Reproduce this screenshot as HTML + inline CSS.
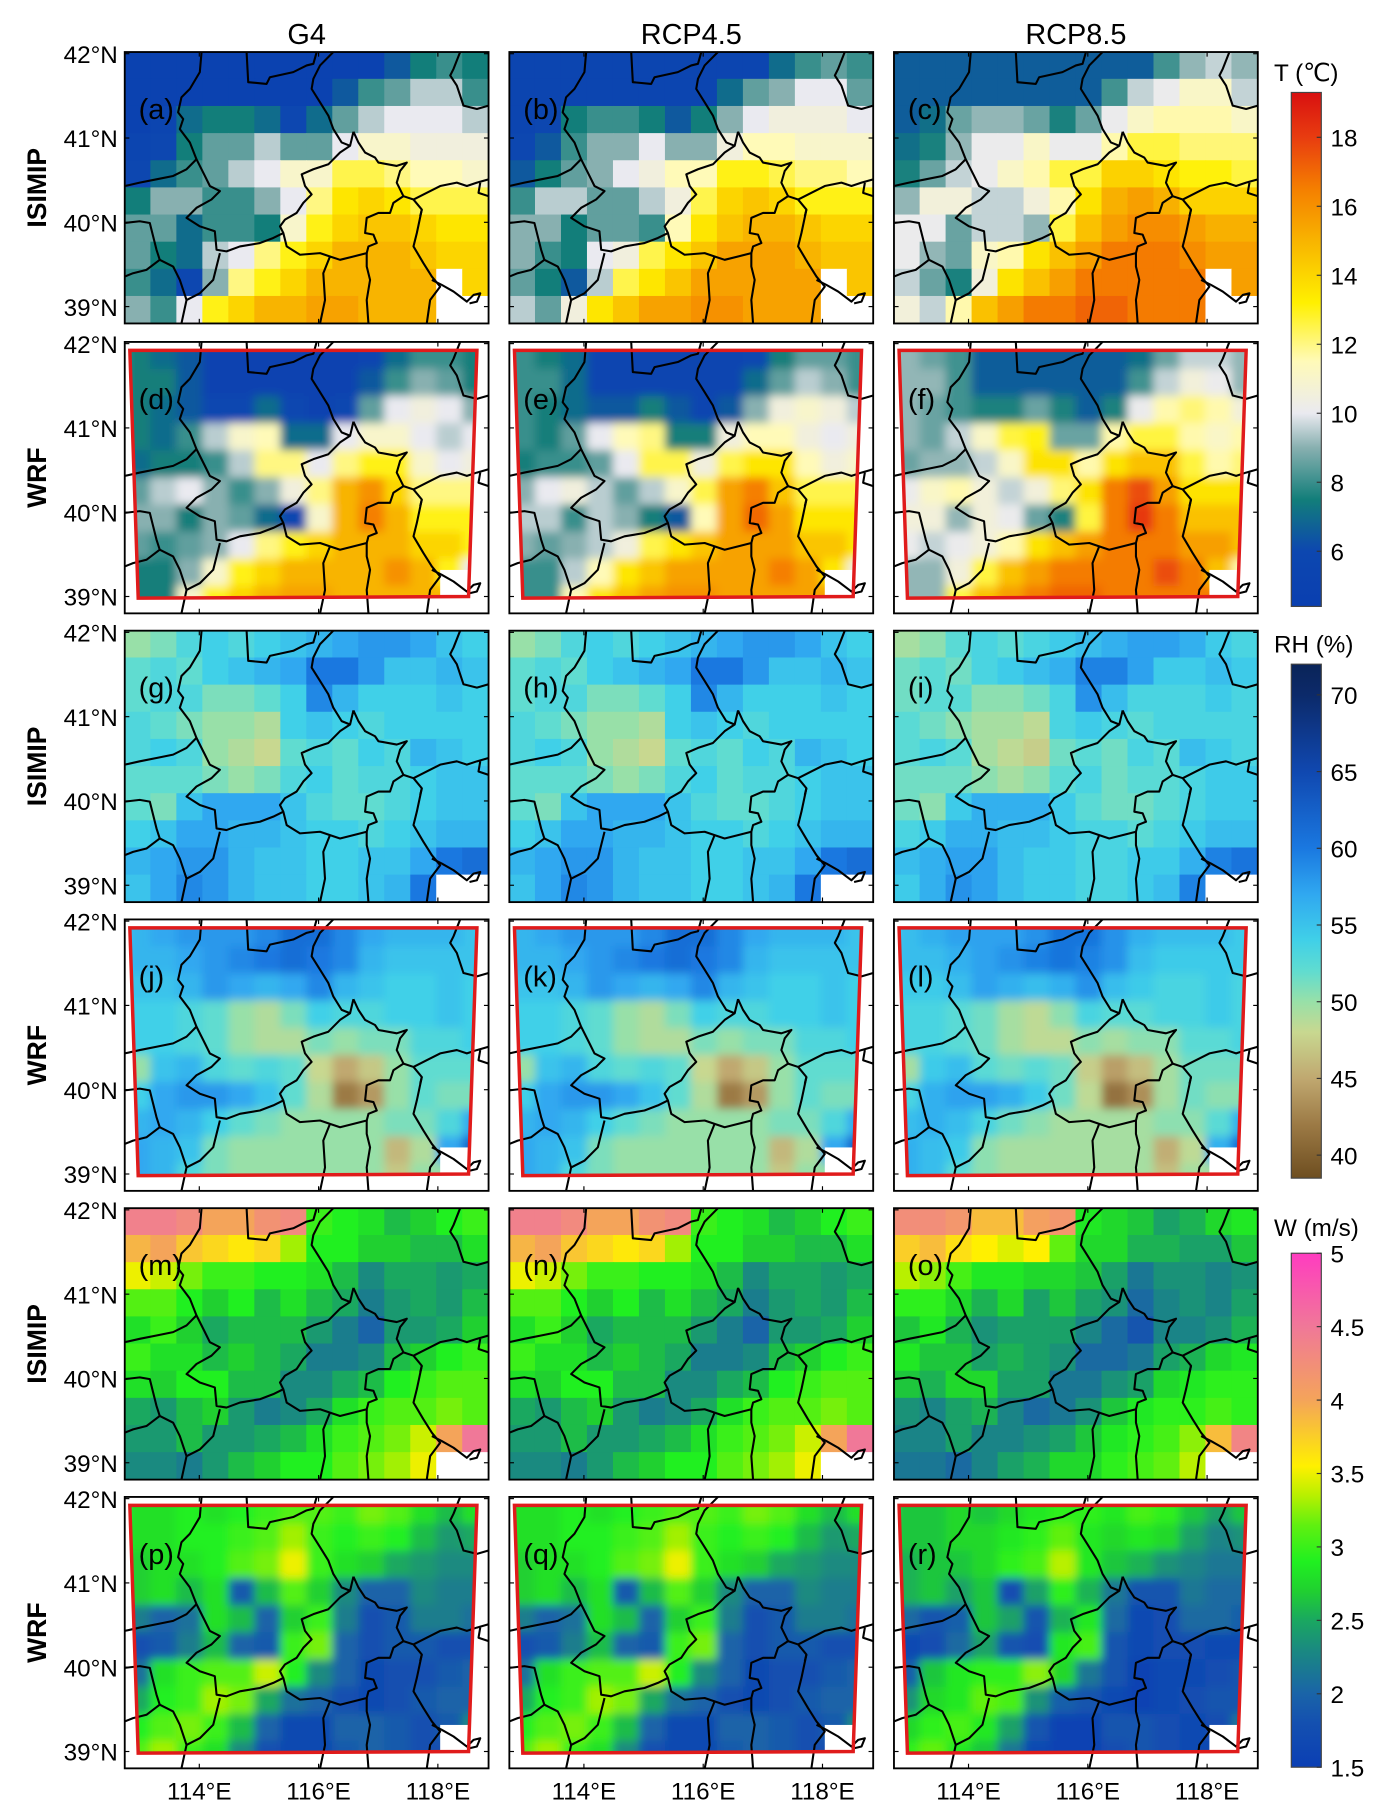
<!DOCTYPE html>
<html><head><meta charset="utf-8">
<style>
html,body{margin:0;padding:0;background:#fff;}
svg{display:block;font-family:"Liberation Sans",Arial,sans-serif;}
</style></head>
<body>
<svg id="fig" width="1386" height="1810" viewBox="0 0 1200 1567" xmlns="http://www.w3.org/2000/svg">
<defs>
<filter id="blur" x="-5%" y="-5%" width="110%" height="110%"><feGaussianBlur stdDeviation="4" edgeMode="duplicate"/></filter>
</defs>
</svg>
<script>
// ---------- data ----------
const columns = ["G4","RCP4.5","RCP8.5"];
const rowSources = ["ISIMIP","WRF","ISIMIP","WRF","ISIMIP","WRF"];
const latTicks = ["42°N","41°N","40°N","39°N"];
const latValues = [42,41,40,39];
const lonTicks = ["114°E","116°E","118°E"];
const lonValues = [114,116,118];
const panelLetters = ["a","b","c","d","e","f","g","h","i","j","k","l","m","n","o","p","q","r"];
const tOffsets = [0,0.5,1.6];
const rhOffsets = [0,0,-0.6];
const wOffsets = [0,0,-0.15];
const tTicks = [6,8,10,12,14,16,18];
const rhTicks = [40,45,50,55,60,65,70];
const wTicks = [1.5,2,2.5,3,3.5,4,4.5,5];
const N=null;
const tIsimip = [
[5,5,5,5,5,5,5,5,5,5,6.5,7.5,8,7.5],
[5,5,5,5,5,5,5,5,6.5,8,8.5,9.5,9.5,8],
[5,5.5,7,7.5,7.5,7,6,7,8.5,9.5,10,10,10,9.5],
[5.5,6,7.5,8.5,8.5,9.5,8.5,8.5,10,11,11,10.5,10.5,10.5],
[6,7,8,8.5,9.5,10,11,11,12.5,12.5,12,11.5,11.5,11],
[7.5,9,9,8,8,9,10,12,13.5,14,13.5,12.5,12.5,12.5],
[8.5,8.5,7,8,8,7.5,11,13,14,14.5,14.5,14,13.5,13.5],
[8.5,7.5,7,9.5,10,12,13,14,15,15,15,14.5,14,14],
[8,7,6,9,12,13,14,15,15,15,15,15,N,14],
[9,8,10,13,14,15,15,15.5,15.5,15,15,15,N,N]];
const tWrf = [
[7.5,7,6.5,5,5,5,5,5,5,5.5,7,8,8,7.5],
[7.5,7.5,6.5,5,5,5,5,5,5,6.5,8,9,8.5,7.5],
[7.5,7,6.5,6,6,7,6,5,6,8.5,10,10.5,10,9],
[7.5,7,8,9.5,11,11.5,7,7,10,11,11,10,9.5,10],
[7,7.5,7.5,8,9.5,12,12,10,12,13,13,11,10,10.5],
[8.5,9.5,10,9,8,9,10.5,12,15,16,14,12,12,12],
[9,9,7.5,9,8.5,7,6,11,15,16.5,15,13,13,13],
[8.5,8,8.5,9,10,12,13,14,15,15,15,14,14,13],
[7.5,7.5,9,11,13,14,15,15,15,15,16,15,13,10],
[7.5,7.5,11,13,14,15,15.5,15.5,15,15,15,15,N,N]];
const rhIsimip = [
[50,51,53,54,53,54,55,56,57,58,58,57,55,54],
[52,53,52,54,55,56,57,60,60,58,55,55,56,55],
[52,53,53,51,51,52,54,59,56,54,54,54,55,54],
[53,52,51,50,50,49,54,55,54,53,54,54,54,54],
[53,54,53,50,49,48,52,53,52,54,53,56,55,54],
[52,52,52,51,50,51,53,54,52,53,53,54,55,55],
[52,51,55,57,57,57,55,53,52,52,53,54,55,55],
[54,55,57,57,56,56,55,54,54,53,54,55,56,56],
[56,57,58,58,56,55,55,54,54,55,55,57,60,61],
[55,57,59,58,56,55,55,54,54,55,56,60,N,N]];
const rhWrf = [
[56,57,58,58,58,59,61,61,59,57,56,56,56,55],
[56,56,57,58,59,60,61,60,59,56,55,55,55,55],
[55,55,56,58,57,56,57,59,56,55,54,54,55,54],
[54,54,53,52,50,49,51,54,53,53,54,54,55,54],
[54,54,53,52,50,49,49,51,50,51,51,53,53,54],
[50,55,56,53,52,53,52,48,45,47,50,52,52,52],
[54,57,58,58,57,55,52,49,42,44,50,52,51,51],
[56,57,56,54,52,51,50,50,50,50,51,51,53,57],
[57,56,55,51,50,50,50,50,50,50,46,49,57,62],
[57,56,53,51,50,50,50,50,50,50,47,50,N,N]];
const wIsimip = [
[4.4,4.4,4.3,4.0,4.0,4.2,4.3,3.0,2.9,2.8,2.6,2.7,2.9,3.0],
[3.9,4.0,3.8,3.7,3.6,3.7,3.3,2.9,2.9,2.7,2.7,2.6,2.6,2.8],
[3.5,3.4,3.2,3.0,3.0,2.9,2.9,2.8,2.6,2.3,2.5,2.5,2.4,2.5],
[3.1,3.1,2.9,2.7,2.9,2.6,2.8,2.6,2.5,2.2,2.4,2.5,2.4,2.6],
[2.8,3.0,2.7,2.5,2.6,2.6,2.6,2.4,2.2,2.0,2.4,2.4,2.5,2.7],
[3.0,2.8,2.8,2.6,2.7,2.6,2.5,2.2,2.2,2.3,2.6,2.7,2.9,3.0],
[2.8,2.7,2.9,2.9,2.6,2.6,2.3,2.3,2.5,2.6,2.9,3.0,3.1,3.1],
[2.5,2.4,2.6,2.7,2.4,2.2,2.3,2.5,2.8,3.0,3.1,3.1,3.2,3.1],
[2.4,2.4,2.6,2.4,2.4,2.5,2.6,2.8,3.0,3.1,3.2,3.4,4.0,4.5],
[2.3,2.3,2.2,2.4,2.6,2.7,2.9,2.9,3.1,3.2,3.3,3.5,N,N]];
const wWrf = [
[2.8,2.8,2.9,2.8,2.9,3.0,3.1,3.1,3.0,3.2,3.1,2.8,2.6,2.8],
[2.8,2.8,2.9,2.9,3.0,3.1,3.3,3.0,2.9,3.0,2.9,2.6,2.4,2.5],
[2.7,2.8,2.8,2.9,3.1,3.2,3.5,3.0,2.8,2.7,2.5,2.4,2.3,2.3],
[2.7,2.8,2.6,2.8,1.9,2.6,3.1,2.7,2.3,2.0,2.0,2.3,2.2,2.2],
[2.2,2.0,2.1,2.8,2.6,2.0,2.7,3.0,2.2,1.8,1.9,2.2,2.2,2.1],
[1.8,1.9,2.2,2.6,2.0,1.9,3.0,3.2,2.0,1.8,1.9,1.9,1.8,1.8],
[2.1,2.8,3.0,3.1,3.1,3.4,2.9,2.3,2.0,1.7,1.8,1.8,1.9,2.0],
[2.5,2.9,3.0,3.3,3.2,2.5,2.1,2.0,1.8,1.7,1.8,1.9,2.0,2.0],
[2.9,3.1,3.2,3.0,2.6,2.0,1.7,1.7,2.0,2.0,1.9,1.8,1.9,2.3],
[3.1,3.3,3.0,2.8,2.3,1.8,1.7,1.7,1.9,2.0,1.9,1.8,N,N]];

// ---------- layout / colormaps ----------
const colX=[108,441,774], PW=315, PH=235;
const rowY=[45,296,546,796,1046,1296];
const lonMin=112.75, lonMax=118.85, latTop=42.02, latBot=38.8;
const xs=l=>(l-lonMin)/(lonMax-lonMin)*PW;
const ys=l=>(latTop-l)/(latTop-latBot)*PH;
const tMap=[[4.4,"#0a3fb0"],[6,"#0d47b0"],[7.5,"#127e7a"],[9,"#88b0b0"],[10,"#eaeaf0"],[11.5,"#fffab8"],[13.2,"#fff000"],[15,"#f8b400"],[16.5,"#f57f00"],[18,"#e83c10"],[19.3,"#d81010"]];
const rhMap=[[38.5,"#6e4e20"],[42,"#9c7a45"],[45,"#c0a870"],[48,"#c8d890"],[50,"#98e0a8"],[52,"#60dcd0"],[54,"#40d0e8"],[57,"#30a8f0"],[60,"#1a78e0"],[65,"#1048b0"],[70,"#0c2a6a"],[72,"#0a2458"]];
const wMap=[[1.5,"#0b3fb4"],[1.8,"#1450b0"],[2.0,"#1a64a8"],[2.3,"#1a8a80"],[2.5,"#1aa860"],[2.7,"#20d030"],[2.9,"#20f020"],[3.15,"#60f010"],[3.35,"#b8f000"],[3.55,"#fff000"],[4.0,"#f4a45a"],[4.5,"#f07898"],[5,"#ff3cc0"]];
function hex(c){return [1,3,5].map(i=>parseInt(c.substr(i,2),16));}
function cmap(m,v){
  if(v<=m[0][0])return m[0][1]; if(v>=m[m.length-1][0])return m[m.length-1][1];
  for(let i=0;i<m.length-1;i++){if(v<=m[i+1][0]){const t=(v-m[i][0])/(m[i+1][0]-m[i][0]);const a=hex(m[i][1]),b=hex(m[i+1][1]);return "rgb("+a.map((x,k)=>Math.round(x+(b[k]-x)*t)).join(",")+")";}}
}
const NS="http://www.w3.org/2000/svg";
const svg=document.getElementById('fig');
function el(tag,attrs,parent){const e=document.createElementNS(NS,tag);for(const k in attrs)e.setAttribute(k,attrs[k]);(parent||svg).appendChild(e);return e;}
const borders=[
[[700,258],[715,290],[735,320],[765,335],[775,350],[830,360],[860,350],[840,375],[830,410],[850,450],[820,470],[810,500],[775,500],[740,515],[735,560],[760,565],[770,590],[745,600],[740,620],[700,630],[660,640],[630,630],[600,620],[540,625],[500,600],[490,560],[480,540],[495,520],[530,500],[550,470],[575,445],[555,420],[545,385],[580,370],[625,355],[660,320],[690,300],[700,258]],
[[850,450],[880,460],[905,490],[900,510]],
[[245,20],[240,80],[210,130],[185,155],[175,200],[190,220],[180,250],[210,290],[230,340],[255,390],[270,420],[300,435],[275,460],[230,485],[200,515],[240,540],[285,555],[290,610],[320,615],[360,600],[420,590],[460,575],[490,560]],
[[300,620],[290,660],[280,700],[240,740],[200,760],[185,830]],
[[380,20],[385,110],[440,115],[450,95],[520,80],[560,60],[580,55],[590,20]],
[[640,20],[600,60],[580,100],[575,130],[600,170],[625,210],[640,250],[665,290],[690,300]],
[[15,420],[60,410],[110,400],[160,390],[200,370],[230,340]],
[[15,530],[60,525],[90,530],[100,570],[110,610],[120,640],[80,670],[40,680],[15,690]],
[[120,640],[160,660],[180,700],[200,760]],
[[1020,20],[1000,70],[990,90],[1010,120],[1030,180],[1070,190],[1105,180]],
[[880,460],[920,440],[960,420],[1010,410],[1040,420],[1070,410],[1105,400]],
[[1080,410],[1075,440],[1105,450]],
[[740,620],[740,660],[750,700],[740,760],[745,830]],
[[630,630],[610,680],[615,760],[600,830]],
[[905,490],[890,560],[880,600],[910,650],[935,690],[960,720],[930,760],[920,830]],
[[935,700],[965,715],[1000,735],[1040,765],[1060,745],[1080,740],[1070,765],[1048,770]]];
const quad=[[0.014,0.031],[0.968,0.031],[0.945,0.938],[0.037,0.944]];

const variables=[
 {iso:tIsimip,wrf:tWrf,off:tOffsets,map:tMap},
 {iso:rhIsimip,wrf:rhWrf,off:rhOffsets,map:rhMap},
 {iso:wIsimip,wrf:wWrf,off:wOffsets,map:wMap}];

columns.forEach((c,i)=>{const t=el('text',{x:colX[i]+PW/2,y:38,'text-anchor':'middle','font-size':25});t.textContent=c;

});

let pi=0;
for(let r=0;r<6;r++){
  const v=variables[Math.floor(r/2)], isWrf=r%2==1, grid=isWrf?v.wrf:v.iso;
  const y0=rowY[r];
  const rl=el('text',{x:0,y:0,transform:`translate(40,${y0+PH/2}) rotate(-90)`,'text-anchor':'middle','font-size':23,'font-weight':'bold'});
  rl.textContent=rowSources[r];
  
  
  for(let c=0;c<3;c++){
    const x0=colX[c];
    const g=el('g',{transform:`translate(${x0},${y0})`});
    
    
    const cid='clip'+pi;
    const cp=el('clipPath',{id:cid},g);
    if(isWrf){el('polygon',{points:quad.map(p=>(p[0]*PW)+','+(p[1]*PH)).join(' ')},cp);}
    else el('rect',{x:0,y:0,width:PW,height:PH},cp);
    const cells=el('g',{'clip-path':`url(#${cid})`},g);
    const inner=el('g',isWrf?{filter:'url(#blur)'}:{},cells);
    const nr=grid.length,nc=grid[0].length,cw=PW/nc,ch=PH/nr;
    grid.forEach((row,i)=>row.forEach((val,j)=>{
      let fill;
      if(val===null){
        if(isWrf){let k=j;while(k>0&&grid[i][k]===null)k--;fill=cmap(v.map,grid[i][k]+v.off[c]);}
        else fill='#ffffff';
      } else fill=cmap(v.map,val+v.off[c]);
      const rc=el('rect',{x:j*cw-0.3,y:i*ch-0.3,width:cw+0.6,height:ch+0.6,fill:fill},inner);
      
      
    }));
    if(isWrf){
      el('rect',{x:PW*0.867,y:PH*0.84,width:PW*0.08,height:PH*0.1,fill:'#fff'},cells);
    }
    const bg=el('g',{fill:'none',stroke:'#000','stroke-width':1.8,'stroke-linejoin':'round'},g);
    borders.forEach(b=>{const pl=el('polyline',{points:b.map(p=>((p[0]-15)/1090*PW).toFixed(1)+','+((p[1]-20)/810*PH).toFixed(1)).join(' ')},bg);
      
      });
    if(isWrf){const q=el('polygon',{points:quad.map(p=>(p[0]*PW)+','+(p[1]*PH)).join(' '),fill:'none',stroke:'#e01b1b','stroke-width':3},g);
      
      }
    el('rect',{x:0,y:0,width:PW,height:PH,fill:'none',stroke:'#000','stroke-width':1.6},g);
    latValues.forEach(l=>{el('line',{x1:0,x2:4,y1:ys(l),y2:ys(l),stroke:'#000'},g);el('line',{x1:PW-4,x2:PW,y1:ys(l),y2:ys(l),stroke:'#000'},g);});
    lonValues.forEach(l=>{el('line',{x1:xs(l),x2:xs(l),y1:PH,y2:PH-4,stroke:'#000'},g);el('line',{x1:xs(l),x2:xs(l),y1:0,y2:4,stroke:'#000'},g);});
    const lb=el('text',{x:12,y:58,'font-size':25},g);lb.textContent='('+panelLetters[pi]+')';
    
    
    pi++;
  }
  latTicks.forEach((t,k)=>{const tx=el('text',{x:102,y:y0+ys(latValues[k])+8,'text-anchor':'end','font-size':21});tx.textContent=t;
    
    });
}
for(let c=0;c<3;c++)lonTicks.forEach((t,k)=>{const tx=el('text',{x:colX[c]+xs(lonValues[k]),y:1558,'text-anchor':'middle','font-size':21});tx.textContent=t;
  
  });

const bars=[
 {title:"T (℃)",ty:70,y0:80,y1:525,min:4.4,max:19.3,map:tMap,ticks:tTicks,name:'temperature'},
 {title:"RH (%)",ty:565,y0:575,y1:1020,min:38.5,max:72,map:rhMap,ticks:rhTicks,name:'humidity'},
 {title:"W (m/s)",ty:1070,y0:1085,y1:1530,min:1.5,max:5,map:wMap,ticks:wTicks,name:'wind'}];
bars.forEach((b,bi)=>{
  const g=el('g',{});
  
  
  const gid='grad'+bi;
  const lg=el('linearGradient',{id:gid,x1:0,y1:1,x2:0,y2:0},g);
  b.map.forEach(s=>el('stop',{offset:((s[0]-b.min)/(b.max-b.min)).toFixed(3),'stop-color':s[1]},lg));
  el('rect',{x:1118,y:b.y0,width:26,height:b.y1-b.y0,fill:`url(#${gid})`,stroke:'#444','stroke-width':1},g);
  const tt=el('text',{x:1103,y:b.ty,'font-size':21},g);tt.textContent=b.title;
  
  
  b.ticks.forEach(t=>{const yy=b.y1-(t-b.min)/(b.max-b.min)*(b.y1-b.y0);
    el('line',{x1:1140,x2:1144,y1:yy,y2:yy,stroke:'#333'},g);
    const tx=el('text',{x:1152,y:yy+8,'font-size':21},g);tx.textContent=t;
    
    });
});
</script>
</body></html>
